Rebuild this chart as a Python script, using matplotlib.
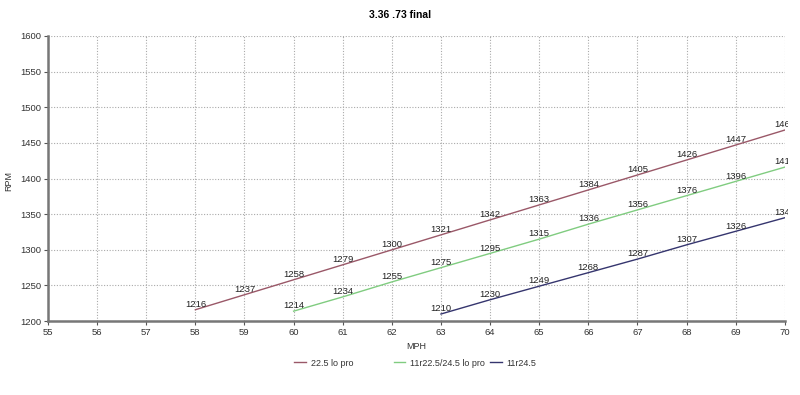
import matplotlib
matplotlib.use("Agg")
import matplotlib.pyplot as plt
from matplotlib.transforms import Bbox

plt.rcParams['font.family'] = ['Liberation Sans', 'DejaVu Sans']

# data
mph_lo = [58, 59, 60, 61, 62, 63, 64, 65, 66, 67, 68, 69, 70]
rpm_lo = [1216, 1237, 1258, 1279, 1300, 1321, 1342, 1363, 1384, 1405, 1426, 1447, 1468]
mph_mid = [60, 61, 62, 63, 64, 65, 66, 67, 68, 69, 70]
rpm_mid = [1214, 1234, 1255, 1275, 1295, 1315, 1336, 1356, 1376, 1396, 1416]
mph_r = [63, 64, 65, 66, 67, 68, 69, 70]
rpm_r = [1210, 1230, 1249, 1268, 1287, 1307, 1326, 1345]

series = [
    ("22.5 lo pro", mph_lo, rpm_lo, "#9a5868"),
    ("11r22.5/24.5 lo pro", mph_mid, rpm_mid, "#80cc80"),
    ("11r24.5", mph_r, rpm_r, "#35356e"),
]

fs = 6.5
fig = plt.figure(figsize=(8, 3.95), dpi=100)
ax = fig.add_axes([0.06, 0.187, 0.921, 0.722])

# point labels get cut just past the right edge, like the reference
clip = Bbox.from_extents(0, 0, 788, 395)
lines = []
for name, xs, ys, col in series:
    ln, = ax.plot(xs, ys, color=col, lw=1, label=name)
    lines.append(ln)
    for x, y in zip(xs, ys):
        t = ax.text(x, y + 1, str(y), ha='center', va='bottom', fontsize=fs + 0.3,
                    color='#222222')
        t.set_clip_on(True)
        t.set_clip_box(clip)

ax.set_xlim(55, 70)
ax.set_ylim(1200, 1600)
ax.set_xticks(range(55, 71))
ax.set_yticks(range(1200, 1601, 50))
ax.grid(True, linestyle=(0, (1, 1.5)), color='#aaaaaa', lw=0.8)
ax.tick_params(labelsize=fs + 0.3, length=3, color='#555555', labelcolor='#333333', pad=2)
for s in ['top', 'right']:
    ax.spines[s].set_visible(False)
for s in ['left', 'bottom']:
    ax.spines[s].set_color('#777777')
    ax.spines[s].set_linewidth(1.8)

ax.set_xlabel("MPH", fontsize=fs, color='#333333')
ax.set_ylabel("RPM", fontsize=fs, color='#333333')
ax.xaxis.set_label_coords(0.5, -0.072)
ax.yaxis.set_label_coords(-0.047, 0.49)
fig.text(0.5, 0.963, "3.36 .73 final", ha='center', va='center',
         fontsize=7.5, fontweight='bold')

# legend entries spaced as in the reference
for ln, xpos in zip(lines, [0.368, 0.492, 0.613]):
    fig.legend(handles=[ln], loc='center left', bbox_to_anchor=(xpos, 0.081),
               frameon=False, fontsize=fs, handlelength=1.3, handletextpad=0.5,
               borderpad=0, borderaxespad=0, labelcolor='#333333')

fig.savefig("out.png", dpi=100)
